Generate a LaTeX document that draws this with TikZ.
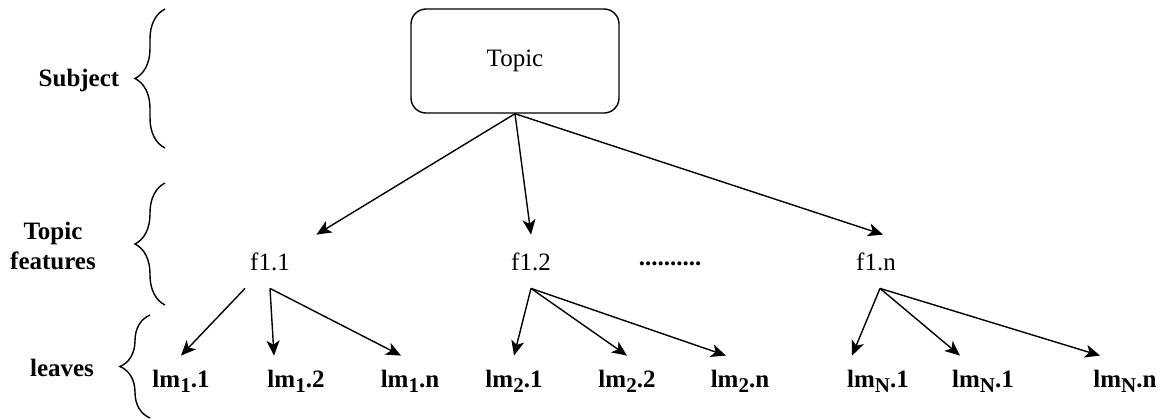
\documentclass[tikz,border=0pt]{standalone}
\usepackage{fontspec}
\setmainfont{Liberation Serif}
\usetikzlibrary{arrows.meta,decorations.pathreplacing}

% subindice de las hojas
\newcommand{\bajo}[1]{\raisebox{-2.5pt}{\fontsize{10.5}{12}\selectfont #1}}

\begin{document}
\begin{tikzpicture}[x=0.5pt,y=-0.5pt,
		font=\fontsize{12.5}{15}\selectfont,
		flecha/.style={-{Stealth[length=7.5pt,width=6.5pt,inset=2pt]}, line width=0.7pt},
		llave/.style={decorate, decoration={brace, amplitude=15pt}, line width=0.7pt},
		caja/.style={draw, line width=0.7pt, rounded corners=7.5pt, minimum width=104pt, minimum height=52pt},
		rasgo/.style={inner sep=0pt, minimum width=46pt, minimum height=26.5pt},
		hoja/.style={font=\fontsize{12.5}{15}\selectfont\bfseries, inner sep=0pt, minimum height=25pt},
		etiqueta/.style={font=\fontsize{12.5}{15}\selectfont\bfseries, align=center}]
		
		\useasboundingbox (0,0) rectangle (1166,419);
		
		% Nodo raiz
		\node[caja] (T) at (515,61) {Topic};
		
		% Rasgos del tema
		\node[rasgo] (F1) at (270,261.5) {f1.1};
		\node[rasgo] (F2) at (531,261.5) {f1.2};
		\node[font=\fontsize{12.5}{15}\selectfont\bfseries] (P) at (670,264) {..........};
		\node[rasgo] (FN) at (876,261.5) {f1.n};
		
		% Hojas
		\node[hoja] (L11) at (181,381) {lm\bajo{1}.1};
		\node[hoja] (L12) at (296,381) {lm\bajo{1}.2};
		\node[hoja] (L1n) at (410,381) {lm\bajo{1}.n};
		\node[hoja] (L21) at (514,381) {lm\bajo{2}.1};
		\node[hoja] (L22) at (627,381) {lm\bajo{2}.2};
		\node[hoja] (L2n) at (740,381) {lm\bajo{2}.n};
		\node[hoja] (LN1) at (878,381) {lm\bajo{N}.1};
		\node[hoja] (LN2) at (983,381) {lm\bajo{N}.1};
		\node[hoja] (LNn) at (1125,381) {lm\bajo{N}.n};
		
		% Llaves y niveles
		\draw[llave] (165,148) -- (165,9);
		\node[etiqueta] (S) at (79,80) {Subject};
		\draw[llave] (165,305) -- (165,183);
		\node[etiqueta] (TF) at (53,246) {Topic\\features};
		\draw[llave] (150,418) -- (150,315);
		\node[etiqueta] (H) at (62,368) {leaves};
		
		% Flechas desde la raiz
		\draw[flecha] (T.south) -- (F1.north east);
		\draw[flecha] (T.south) -- (F2.north);
		\draw[flecha] (T.south) -- ([xshift=3.5pt]FN.north);
		
		% Flechas hacia las hojas
		\draw[flecha] ([xshift=-12.5pt]F1.south) -- (L11.north);
		\draw[flecha] (F1.south) -- ([xshift=-11pt]L12.north);
		\draw[flecha] (F1.south) -- ([xshift=-4.5pt]L1n.north);
		\draw[flecha] (F2.south) -- (L21.north);
		\draw[flecha] (F2.south) -- (L22.north);
		\draw[flecha] (F2.south) -- ([xshift=-7pt]L2n.north);
		\draw[flecha] ([xshift=2pt]FN.south) -- ([xshift=-13pt]LN1.north);
		\draw[flecha] ([xshift=2pt]FN.south) -- ([xshift=-11.5pt]LN2.north);
		\draw[flecha] ([xshift=2pt]FN.south) -- ([xshift=-12.5pt]LNn.north);
		
	\end{tikzpicture}
\end{document}
